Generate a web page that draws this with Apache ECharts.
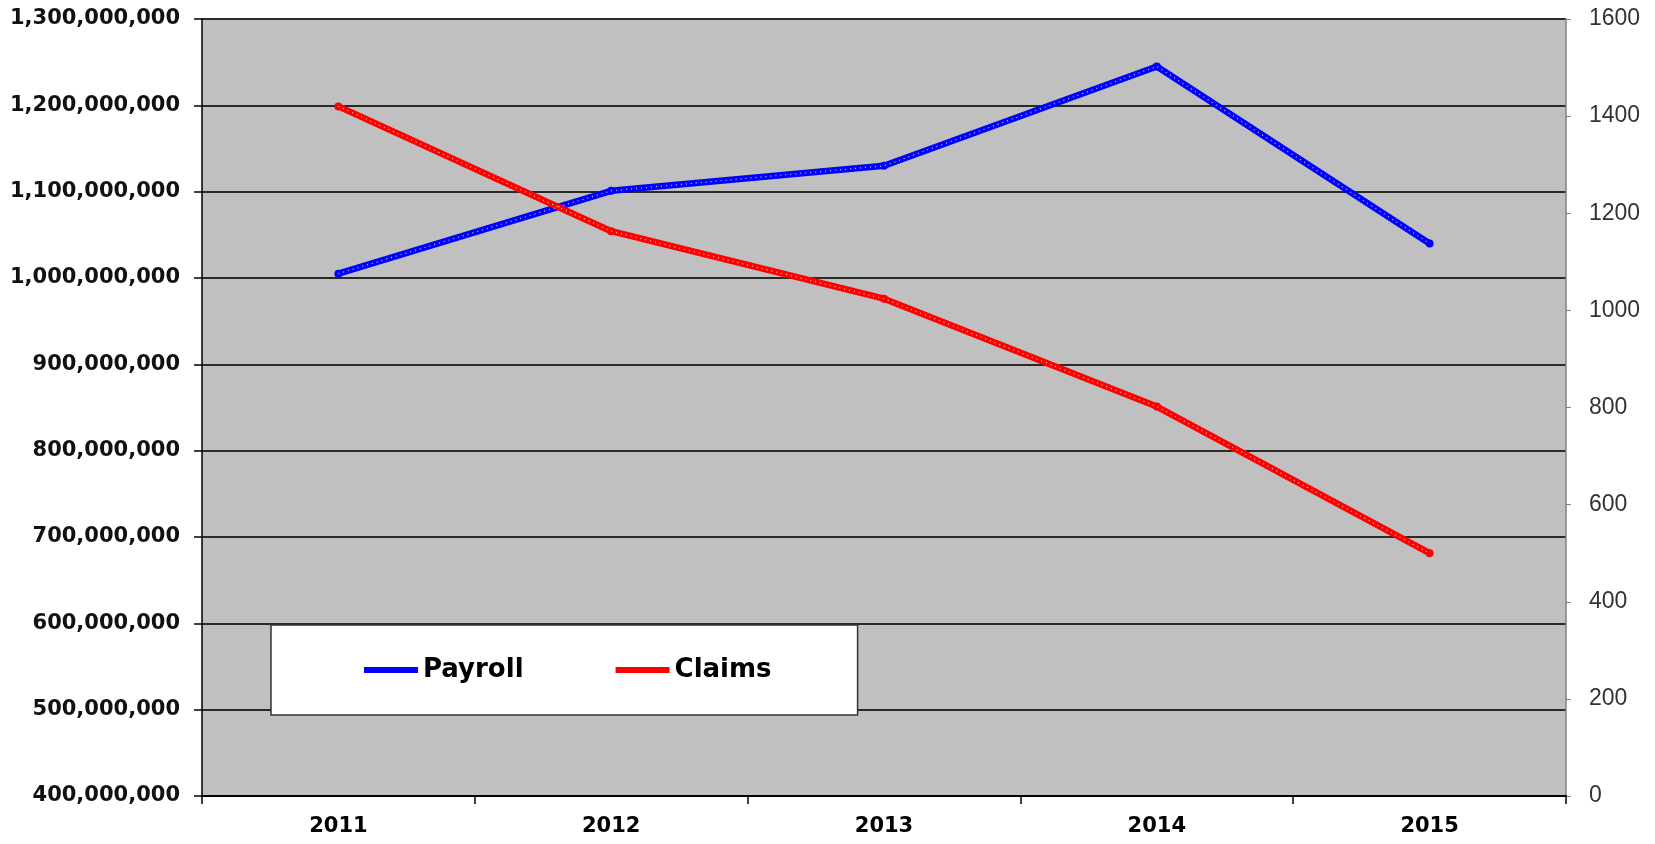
<!DOCTYPE html>
<html>
<head>
<meta charset="utf-8">
<script src="https://cdn.jsdelivr.net/npm/echarts@6/dist/echarts.min.js"></script>
<style>
  html, body { margin: 0; padding: 0; background: #fff; }
</style>
</head>
<body>
<!-- chart container -->
<div id="main" style="width: 1655px; height: 844px"></div>
<script>
// data
var years = ["2011", "2012", "2013", "2014", "2015"];
var payroll = [1005000000, 1101000000, 1130000000, 1245000000, 1040000000];
var claims = [1420, 1163, 1024, 802, 500];

var font = "DejaVu Sans";

var option = {
  animation: false,
  grid: {
    left: 202,
    right: 89,
    top: 19,
    bottom: 48,
    show: true,
    backgroundColor: "#c0c0c0",
    borderWidth: 0,
  },
  legend: {
    data: ["Payroll", "Claims"],
    left: 271,
    top: 625,
    orient: "horizontal",
    backgroundColor: "#fff",
    borderColor: "#333",
    borderWidth: 1.5,
    padding: [32, 86, 32, 93],
    itemGap: 92,
    itemWidth: 54,
    itemHeight: 6,
    icon: "rect",
    textStyle: {
      fontFamily: font,
      fontWeight: "bold",
      fontSize: 26,
      color: "#000",
    },
  },
  xAxis: {
    type: "category",
    data: years,
    boundaryGap: true,
    axisLine: { lineStyle: { color: "#000", width: 2 } },
    axisTick: { show: true, length: 8, lineStyle: { color: "#000", width: 1.5 } },
    axisLabel: {
      margin: 20,
      fontFamily: font,
      fontWeight: "bold",
      fontSize: 21,
      color: "#000",
    },
  },
  yAxis: [
    {
      type: "value",
      min: 400000000,
      max: 1300000000,
      interval: 100000000,
      position: "left",
      axisLine: { show: true, lineStyle: { color: "#000", width: 1.5 } },
      axisTick: { show: true, length: 8, lineStyle: { color: "#000", width: 1.5 } },
      splitLine: { show: true, lineStyle: { color: "#2a2a2a", width: 2 } },
      axisLabel: {
        margin: 22,
        fontFamily: font,
        fontWeight: "bold",
        fontSize: 21,
        color: "#111",
        formatter: function (v) {
          return v.toLocaleString("en-US");
        },
      },
    },
    {
      type: "value",
      min: 0,
      max: 1600,
      interval: 200,
      position: "right",
      axisLine: { show: true, lineStyle: { color: "#808080", width: 1.5 } },
      axisTick: { show: true, length: 5, lineStyle: { color: "#808080" } },
      splitLine: { show: false },
      axisLabel: {
        margin: 23,
        fontFamily: "Liberation Sans",
        fontSize: 23,
        color: "#333",
        formatter: function (v) {
          return String(v);
        },
      },
    },
  ],
  series: [
    {
      name: "Payroll",
      type: "line",
      data: payroll,
      yAxisIndex: 0,
      symbol: "circle",
      symbolSize: 8,
      itemStyle: { color: "#0000ff" },
      lineStyle: { color: "#0000ff", width: 6.5 },
      z: 3,
    },
    {
      name: "Claims",
      type: "line",
      data: claims,
      yAxisIndex: 1,
      symbol: "circle",
      symbolSize: 8,
      itemStyle: { color: "#ff0000" },
      lineStyle: { color: "#ff0000", width: 6.5 },
      z: 3,
    },
    // white dotted overlay to mimic the dotted marker look of the lines
    {
      name: "payrollDots",
      type: "line",
      data: payroll,
      yAxisIndex: 0,
      showSymbol: false,
      silent: true,
      lineStyle: { color: "rgba(255,255,255,0.8)", width: 1.2, type: [1, 4] },
      z: 4,
    },
    {
      name: "claimsDots",
      type: "line",
      data: claims,
      yAxisIndex: 1,
      showSymbol: false,
      silent: true,
      lineStyle: { color: "rgba(255,255,255,0.8)", width: 1.2, type: [1, 4] },
      z: 4,
    },
  ],
};

var myChart = echarts.init(document.getElementById("main"));
myChart.setOption(option);
</script>
</body>
</html>
